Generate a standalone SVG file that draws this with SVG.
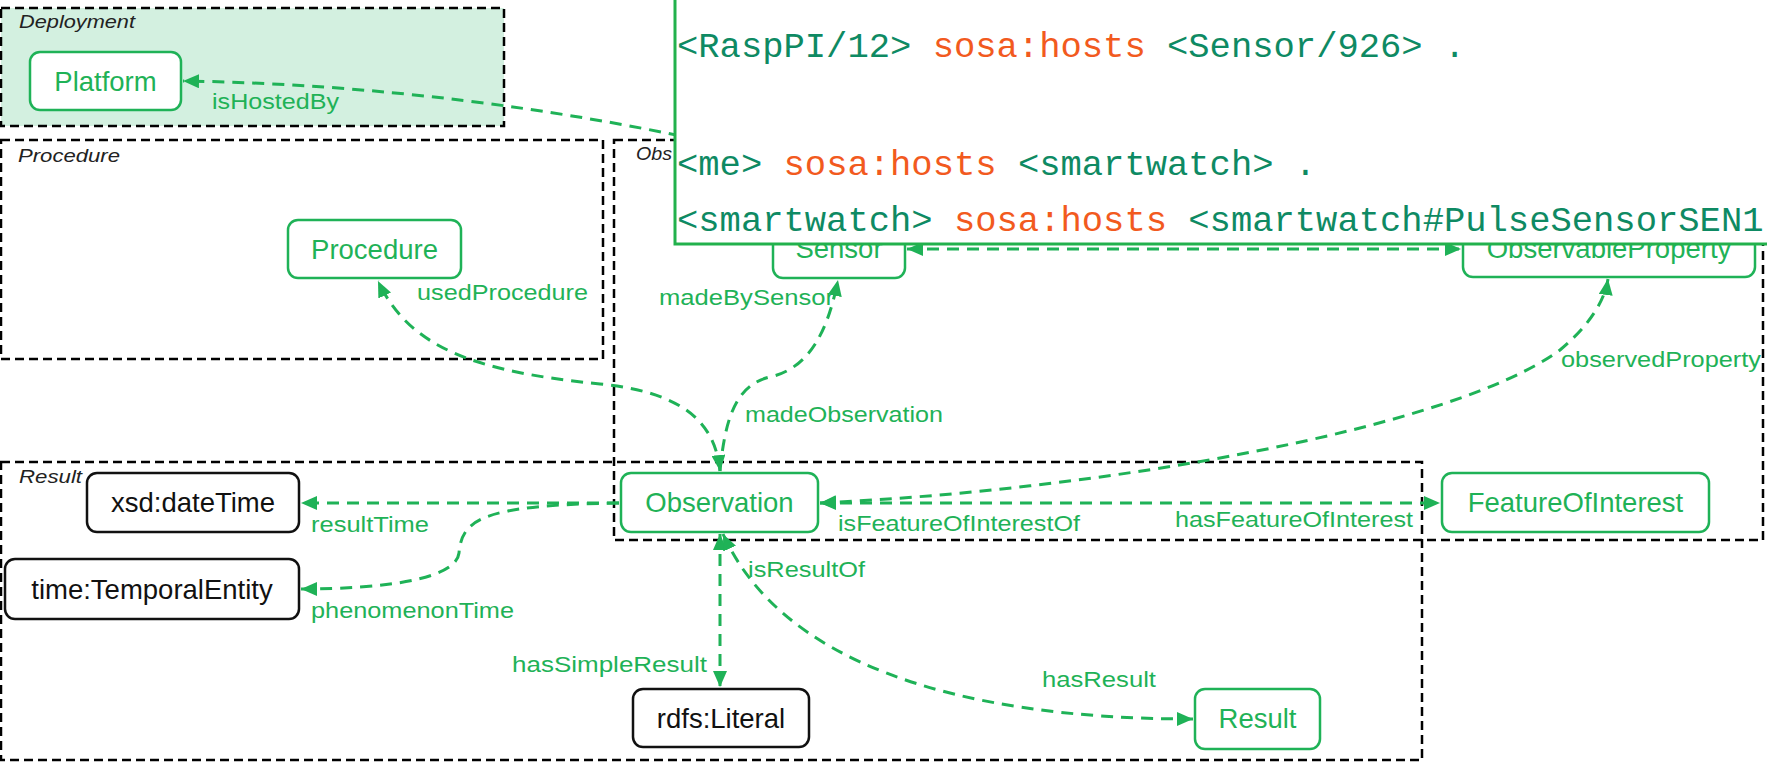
<svg xmlns="http://www.w3.org/2000/svg" width="1767" height="764" viewBox="0 0 1767 764">
<style>
.grp{fill:none;stroke:#000;stroke-width:2.5;stroke-dasharray:9 5}
.glab{font-family:"Liberation Sans",Arial,sans-serif;font-style:italic;font-size:19px;fill:#222}
.gn rect{fill:#fff;stroke:#1fb257;stroke-width:2.5}
.gn text{fill:#1fb257}
.bn rect{fill:#fff;stroke:#111;stroke-width:2.5}
.bn text{fill:#111}
.nt{font-family:"Liberation Sans",Arial,sans-serif;font-size:27.5px;text-anchor:middle}
.e{fill:none;stroke:#1fb257;stroke-width:3;stroke-dasharray:12 8}
.el{font-family:"Liberation Sans",Arial,sans-serif;font-size:22px;fill:#1fb257}
.code{font-family:"Liberation Mono","DejaVu Sans Mono",monospace;font-size:35.5px;fill:#0e8a63}
.kw{fill:#f25a1e}
</style>
<defs>
<marker id="ah" viewBox="0 0 16 14" refX="16" refY="7" markerWidth="16" markerHeight="14" markerUnits="userSpaceOnUse" orient="auto-start-reverse">
<path d="M0,0 L16,7 L0,14 z" fill="#1fb257"/>
</marker>
</defs>

<g id="groups">
<rect class="grp" x="1" y="8" width="503" height="118" style="fill:#d3f0e0"/>
<text class="glab" x="19" y="28" textLength="116" lengthAdjust="spacingAndGlyphs">Deployment</text>
<rect class="grp" x="1" y="140" width="602" height="219"/>
<text class="glab" x="18" y="162" textLength="102" lengthAdjust="spacingAndGlyphs">Procedure</text>
<rect class="grp" x="614" y="140" width="1149" height="400"/>
<text class="glab" x="636" y="160" textLength="36" lengthAdjust="spacingAndGlyphs">Obs</text>
<rect class="grp" x="1" y="462" width="1421" height="298"/>
<text class="glab" x="19" y="483" textLength="63" lengthAdjust="spacingAndGlyphs">Result</text>
</g>

<g id="connectors">
<path class="e" d="M 700 140 C 560 110, 380 84, 183 81" marker-end="url(#ah)"/>
<path class="e" d="M 907 249 L 1461 249" marker-start="url(#ah)" marker-end="url(#ah)"/>
<path class="e" d="M 720 471 C 715 420, 680 392, 600 384 C 480 372, 410 350, 378 281" marker-start="url(#ah)" marker-end="url(#ah)"/>
<path class="e" d="M 720 471 C 725 420, 735 385, 770 377 C 810 368, 828 330, 838 280" marker-end="url(#ah)"/>
<path class="e" d="M 820 503 C 1100 490, 1450 430, 1560 350 C 1590 325, 1605 300, 1608 279" marker-start="url(#ah)" marker-end="url(#ah)"/>
<path class="e" d="M 820 503 L 1440 503" marker-start="url(#ah)" marker-end="url(#ah)"/>
<path class="e" d="M 619 503 L 301 503" marker-end="url(#ah)"/>
<path class="e" d="M 619 503 C 480 505, 462 520, 459 553 C 456 580, 380 589, 301 589" marker-end="url(#ah)"/>
<path class="e" d="M 720 534 L 720 687" marker-start="url(#ah)" marker-end="url(#ah)"/>
<path class="e" d="M 723 534 C 780 660, 950 719, 1193 719" marker-start="url(#ah)" marker-end="url(#ah)"/>
<text class="el" x="212" y="109" textLength="127" lengthAdjust="spacingAndGlyphs">isHostedBy</text>
<text class="el" x="417" y="300" textLength="171" lengthAdjust="spacingAndGlyphs">usedProcedure</text>
<text class="el" x="659" y="305" textLength="175" lengthAdjust="spacingAndGlyphs">madeBySensor</text>
<text class="el" x="745" y="422" textLength="198" lengthAdjust="spacingAndGlyphs">madeObservation</text>
<text class="el" x="1561" y="367" textLength="200" lengthAdjust="spacingAndGlyphs">observedProperty</text>
<text class="el" x="838" y="531" textLength="242" lengthAdjust="spacingAndGlyphs">isFeatureOfInterestOf</text>
<text class="el" x="1175" y="527" textLength="238" lengthAdjust="spacingAndGlyphs">hasFeatureOfInterest</text>
<text class="el" x="311" y="532" textLength="118" lengthAdjust="spacingAndGlyphs">resultTime</text>
<text class="el" x="311" y="618" textLength="203" lengthAdjust="spacingAndGlyphs">phenomenonTime</text>
<text class="el" x="748" y="577" textLength="117" lengthAdjust="spacingAndGlyphs">isResultOf</text>
<text class="el" x="512" y="672" textLength="195" lengthAdjust="spacingAndGlyphs">hasSimpleResult</text>
<text class="el" x="1042" y="687" textLength="114" lengthAdjust="spacingAndGlyphs">hasResult</text>
</g>

<g id="Platform" class="gn"><rect x="30" y="52" width="151" height="58" rx="10"/><text class="nt" x="105.5" y="91">Platform</text></g>
<g id="Procedure" class="gn"><rect x="288" y="220" width="173" height="58" rx="10"/><text class="nt" x="374.5" y="259">Procedure</text></g>
<g id="Sensor" class="gn"><rect x="773" y="219" width="132" height="59" rx="10"/><text class="nt" x="839" y="258">Sensor</text></g>
<g id="ObservableProperty" class="gn"><rect x="1463" y="219" width="292" height="58" rx="10"/><text class="nt" x="1609" y="258">ObservableProperty</text></g>
<g id="Observation" class="gn"><rect x="621" y="473" width="197" height="59" rx="10"/><text class="nt" x="719.5" y="512">Observation</text></g>
<g id="FeatureOfInterest" class="gn"><rect x="1442" y="473" width="267" height="59" rx="10"/><text class="nt" x="1575.5" y="512">FeatureOfInterest</text></g>
<g id="xsd-dateTime" class="bn"><rect x="87" y="473" width="212" height="59" rx="10"/><text class="nt" x="193" y="512">xsd:dateTime</text></g>
<g id="time-TemporalEntity" class="bn"><rect x="5" y="559" width="294" height="60" rx="10"/><text class="nt" x="152" y="599">time:TemporalEntity</text></g>
<g id="rdfs-Literal" class="bn"><rect x="633" y="689" width="176" height="58" rx="10"/><text class="nt" x="721" y="728">rdfs:Literal</text></g>
<g id="Result" class="gn"><rect x="1195" y="689" width="125" height="60" rx="10"/><text class="nt" x="1257.5" y="728">Result</text></g>

<g id="code-overlay">
<rect x="675" y="-10" width="1110" height="254" fill="#fff" stroke="#22b14c" stroke-width="3"/>
<text class="code" x="677" y="57" xml:space="preserve">&lt;RaspPI/12&gt; <tspan class="kw">sosa:hosts</tspan> &lt;Sensor/926&gt; .</text>
<text class="code" x="677" y="175" xml:space="preserve">&lt;me&gt; <tspan class="kw">sosa:hosts</tspan> &lt;smartwatch&gt; .</text>
<text class="code" x="677" y="231" xml:space="preserve">&lt;smartwatch&gt; <tspan class="kw">sosa:hosts</tspan> &lt;smartwatch#PulseSensorSEN1</text>
</g>
</svg>
